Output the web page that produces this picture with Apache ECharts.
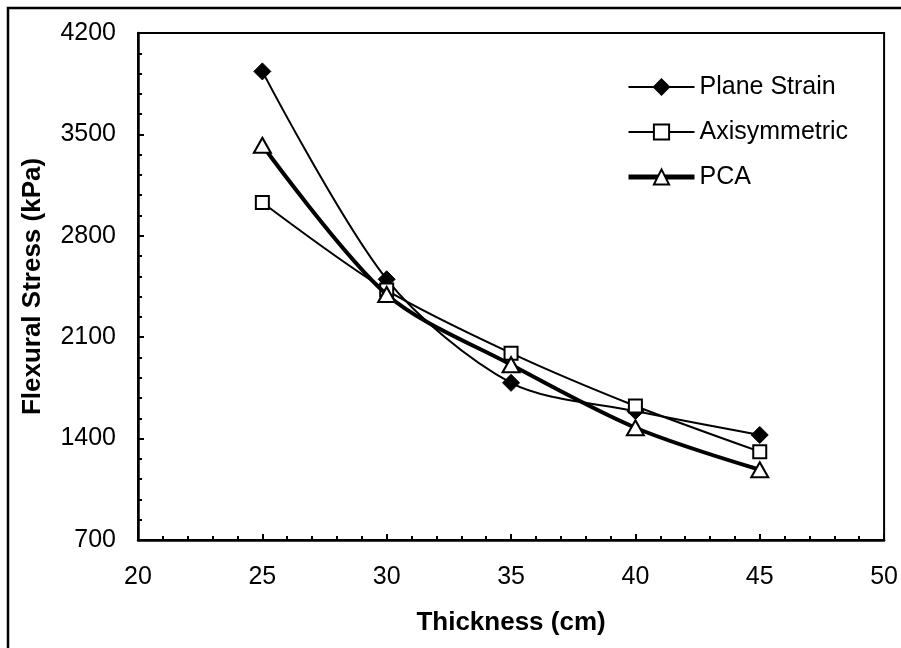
<!DOCTYPE html>
<html>
<head>
<meta charset="utf-8">
<script src="https://cdn.jsdelivr.net/npm/echarts@6/dist/echarts.min.js"></script>
<style>
  html, body { margin: 0; padding: 0; background: #fff; }
  #chart { width: 901px; height: 648px; }
</style>
</head>
<body>
<div id="chart"></div>
<script>
// thickness (cm)
const thickness = [25, 30, 35, 40, 45];
// flexural stress (kPa)
const planeStrain = [3935, 2500, 1785, 1590, 1425];
const axisymmetric = [3030, 2425, 1990, 1625, 1310];
const pca = [3425, 2395, 1910, 1475, 1185];

const font = "Liberation Sans, Arial, sans-serif";
const textColor = "#000";

const pairs = (ys) => thickness.map((x, i) => [x, ys[i]]);

const chart = echarts.init(document.getElementById("chart"));
chart.setOption({
  animation: false,
  backgroundColor: "#fff",
  graphic: [
    {
      type: "rect",
      shape: { x: 8, y: 8, width: 905, height: 655 },
      style: { fill: "none", stroke: "#000", lineWidth: 2.5 },
      z: 100,
    },
  ],
  grid: {
    left: 138,
    right: 14,
    top: 33,
    bottom: 108,
    show: true,
    borderColor: "#000",
    borderWidth: 2,
  },
  legend: {
    orient: "vertical",
    left: 621,
    top: 69,
    itemWidth: 66,
    itemHeight: 19,
    itemGap: 19,
    textStyle: { fontFamily: font, fontSize: 25, color: textColor, lineHeight: 26 },
    data: [
      { name: "Plane Strain", lineStyle: { width: 2 } },
      { name: "Axisymmetric", lineStyle: { width: 2 } },
      { name: "PCA", lineStyle: { width: 5 } },
    ],
  },
  xAxis: {
    type: "value",
    min: 20,
    max: 50,
    interval: 5,
    name: "Thickness (cm)",
    nameLocation: "middle",
    nameGap: 70,
    nameTextStyle: { fontFamily: font, fontSize: 26, fontWeight: "bold", color: textColor },
    axisLine: { show: true, lineStyle: { color: "#000", width: 2.5 } },
    axisTick: { show: true, inside: true, length: 6, lineStyle: { color: "#000", width: 2 } },
    minorTick: { show: true, splitNumber: 5, length: 4, lineStyle: { color: "#000", width: 2 } },
    axisLabel: { fontFamily: font, fontSize: 25, color: textColor, margin: 25, formatter: (v) => String(v) },
    splitLine: { show: false },
  },
  yAxis: {
    type: "value",
    min: 700,
    max: 4200,
    interval: 700,
    name: "Flexural Stress (kPa)",
    nameLocation: "middle",
    nameGap: 92,
    nameTextStyle: { fontFamily: font, fontSize: 26, fontWeight: "bold", color: textColor },
    axisLine: { show: true, lineStyle: { color: "#000", width: 2.5 } },
    axisTick: { show: true, inside: true, length: 6, lineStyle: { color: "#000", width: 2 } },
    minorTick: { show: true, splitNumber: 5, length: 4, lineStyle: { color: "#000", width: 2 } },
    axisLabel: { fontFamily: font, fontSize: 25, color: textColor, margin: 22, formatter: (v) => String(v) },
    splitLine: { show: false },
  },
  series: [
    {
      name: "Plane Strain",
      type: "line",
      data: pairs(planeStrain),
      smooth: 0.3,
      symbol: "diamond",
      symbolSize: 17,
      lineStyle: { color: "#000", width: 2 },
      itemStyle: { color: "#000", borderColor: "#000", borderWidth: 1 },
      z: 3,
    },
    {
      name: "Axisymmetric",
      type: "line",
      data: pairs(axisymmetric),
      smooth: 0.3,
      symbol: "rect",
      symbolSize: 13,
      lineStyle: { color: "#000", width: 2 },
      itemStyle: { color: "#fff", borderColor: "#000", borderWidth: 2 },
      z: 4,
    },
    {
      name: "PCA",
      type: "line",
      data: pairs(pca),
      smooth: 0.3,
      symbol: "triangle",
      symbolSize: [17, 15],
      lineStyle: { color: "#000", width: 4 },
      itemStyle: { color: "#fff", borderColor: "#000", borderWidth: 2 },
      z: 5,
    },
  ],
});
</script>
</body>
</html>
